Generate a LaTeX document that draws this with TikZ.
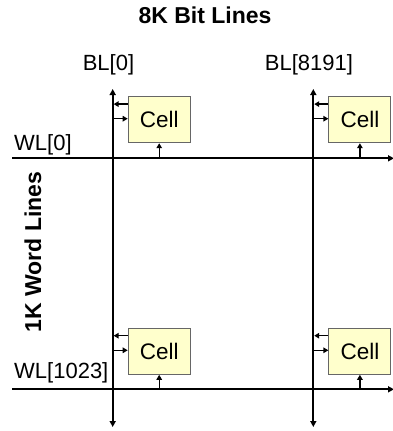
\documentclass[tikz,border=0pt]{standalone}
\usepackage{fontspec}
\setmainfont{Liberation Sans}
\usetikzlibrary{arrows.meta}
\definecolor{cellfill}{HTML}{FFFFCC}
\definecolor{celledge}{HTML}{666666}
\begin{document}
\begin{tikzpicture}[x=1pt,y=-1pt,
  wire/.style={line width=1.8pt},
  bothtips/.style={{Triangle[length=6pt,width=6pt]}-{Triangle[length=6pt,width=6pt]}},
  endtip/.style={-{Triangle[length=6pt,width=6pt]}},
  cellbox/.style={draw=celledge, fill=cellfill, line width=1pt, minimum width=62pt, minimum height=46pt, inner sep=0pt, font=\fontsize{22.5}{24}\selectfont},
  lbl/.style={font=\fontsize{22}{24}\selectfont, inner sep=0pt},
  ttl/.style={font=\fontsize{23}{25}\selectfont\bfseries, inner sep=0pt},
  small/.style={line width=1.4pt, -{Triangle[length=5pt,width=5.5pt]}}]
\useasboundingbox (0,0) rectangle (392,431);

% titles and labels
\node[ttl, anchor=base] (title) at (205,23.3) {8K Bit Lines};
\node[ttl, rotate=90] (side) at (33,252) {1K Word Lines};
\node[lbl, anchor=base] (bl0lab) at (108.5,70.5) {BL[0]};
\node[lbl, anchor=base] (bl1lab) at (309,70.5) {BL[8191]};
\node[lbl, anchor=base west] (wl0lab) at (14,150) {WL[0]};
\node[lbl, anchor=base west] (wl1lab) at (14,378) {WL[1023]};

% bit lines
\coordinate (bl0t) at (112.7,89);
\coordinate (bl0b) at (112.7,427);
\coordinate (bl1t) at (313.3,89);
\coordinate (bl1b) at (313.3,427);
\draw[wire, bothtips] (bl0t) -- (bl0b);
\draw[wire, bothtips] (bl1t) -- (bl1b);

% word lines
\coordinate (wl0s) at (12.3,158.3);
\coordinate (wl0e) at (394,158.3);
\coordinate (wl1s) at (12.3,389.3);
\coordinate (wl1e) at (394,389.3);
\draw[wire, endtip] (wl0s) -- (wl0e);
\draw[wire, endtip] (wl1s) -- (wl1e);

% cells
\node[cellbox] (c00) at (159.2,119.7) {Cell};
\node[cellbox] (c01) at (359.9,119.7) {Cell};
\node[cellbox] (c10) at (159.2,351.3) {Cell};
\node[cellbox] (c11) at (359.9,351.3) {Cell};

\foreach \c/\b/\w in {c00/bl0t/wl0s, c01/bl1t/wl0s, c10/bl0t/wl1s, c11/bl1t/wl1s}{
  \coordinate (\c-o) at ([yshift=15.6pt]\c.west);
  \coordinate (\c-ob) at ([xshift=0.9pt]\b |- \c-o);
  \coordinate (\c-i) at ([yshift=1pt]\c.west);
  \coordinate (\c-ib) at (\b |- \c-i);
  \coordinate (\c-w) at (\c.south |- \w);
  \draw[small] (\c-o) -- (\c-ob);
  \draw[small] (\c-ib) -- (\c-i);
  \draw[small] (\c-w) -- (\c.south);
}
\end{tikzpicture}
\end{document}
